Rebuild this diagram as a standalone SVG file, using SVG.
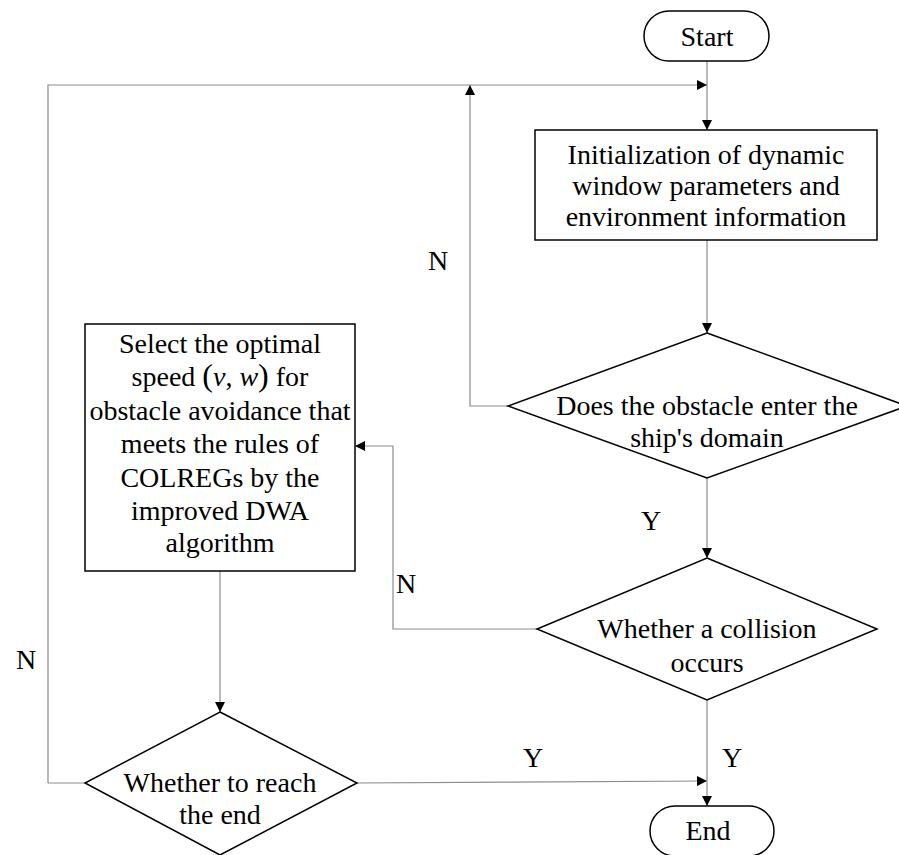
<svg xmlns="http://www.w3.org/2000/svg" width="899" height="855" viewBox="0 0 899 855">
<style>
.shape{fill:#fff;stroke:#000;stroke-width:1.5}
.conn{fill:none;stroke:#8c8c8c;stroke-width:1.2}
text{font-family:"Liberation Serif","Times New Roman",serif;font-size:28px;fill:#000;text-anchor:middle}
.lbl{text-anchor:start}
</style>
<defs>
<marker id="ah" viewBox="0 0 10 10" refX="10" refY="5" markerWidth="10" markerHeight="10" markerUnits="userSpaceOnUse" orient="auto">
<path d="M0,0 L10,5 L0,10 Z" fill="#000"/>
</marker>
</defs>
<rect width="899" height="855" fill="#fff"/>
<g id="connectors">
<path class="conn" d="M707,61 L707,130" marker-end="url(#ah)"/>
<path class="conn" d="M48,783 L48,85 L707,85" marker-end="url(#ah)"/>
<path class="conn" d="M707,240 L707,333" marker-end="url(#ah)"/>
<path class="conn" d="M508,406 L470,406 L470,85" marker-end="url(#ah)"/>
<path class="conn" d="M707,478 L707,558" marker-end="url(#ah)"/>
<path class="conn" d="M537,629 L393,629 L393,446 L355,446" marker-end="url(#ah)"/>
<path class="conn" d="M220,571 L220,712" marker-end="url(#ah)"/>
<path class="conn" d="M85,783 L48,783"/>
<path class="conn" d="M357,783 L707,781" marker-end="url(#ah)"/>
<path class="conn" d="M707,700 L707,806" marker-end="url(#ah)"/>
</g>
<g id="labels">
<text class="lbl" x="428" y="270">N</text>
<text class="lbl" x="641" y="530">Y</text>
<text class="lbl" x="396" y="593">N</text>
<text class="lbl" x="16" y="669">N</text>
<text class="lbl" x="523" y="767">Y</text>
<text class="lbl" x="722" y="767">Y</text>
</g>
<g id="start">
<rect class="shape" x="644" y="11" width="125" height="50" rx="25" ry="25"/>
<text x="707" y="46">Start</text>
</g>
<g id="init">
<rect class="shape" x="535" y="130" width="342" height="110"/>
<text x="706" y="164">Initialization of dynamic</text>
<text x="706" y="195">window parameters and</text>
<text x="706" y="226">environment information</text>
</g>
<g id="domain">
<polygon class="shape" points="707,333 907,406 707,478 508,406"/>
<text x="707" y="415">Does the obstacle enter the</text>
<text x="707" y="447">ship's domain</text>
</g>
<g id="collision">
<polygon class="shape" points="707,558 877,629 707,700 537,629"/>
<text x="707" y="638">Whether a collision</text>
<text x="707" y="672">occurs</text>
</g>
<g id="select">
<rect class="shape" x="85" y="324" width="270" height="247"/>
<text x="220" y="353">Select the optimal</text>
<text x="220" y="386">speed <tspan font-size="32">(</tspan><tspan font-style="italic">v</tspan>, <tspan font-style="italic">w</tspan><tspan font-size="32">)</tspan> for</text>
<text x="220" y="420">obstacle avoidance that</text>
<text x="220" y="453">meets the rules of</text>
<text x="220" y="487">COLREGs by the</text>
<text x="220" y="520">improved DWA</text>
<text x="220" y="552">algorithm</text>
</g>
<g id="reach">
<polygon class="shape" points="220,712 357,783 220,855 85,783"/>
<text x="220" y="792">Whether to reach</text>
<text x="220" y="824">the end</text>
</g>
<g id="end">
<rect class="shape" x="650" y="806" width="124" height="50" rx="25" ry="25"/>
<text x="708" y="840">End</text>
</g>
</svg>
